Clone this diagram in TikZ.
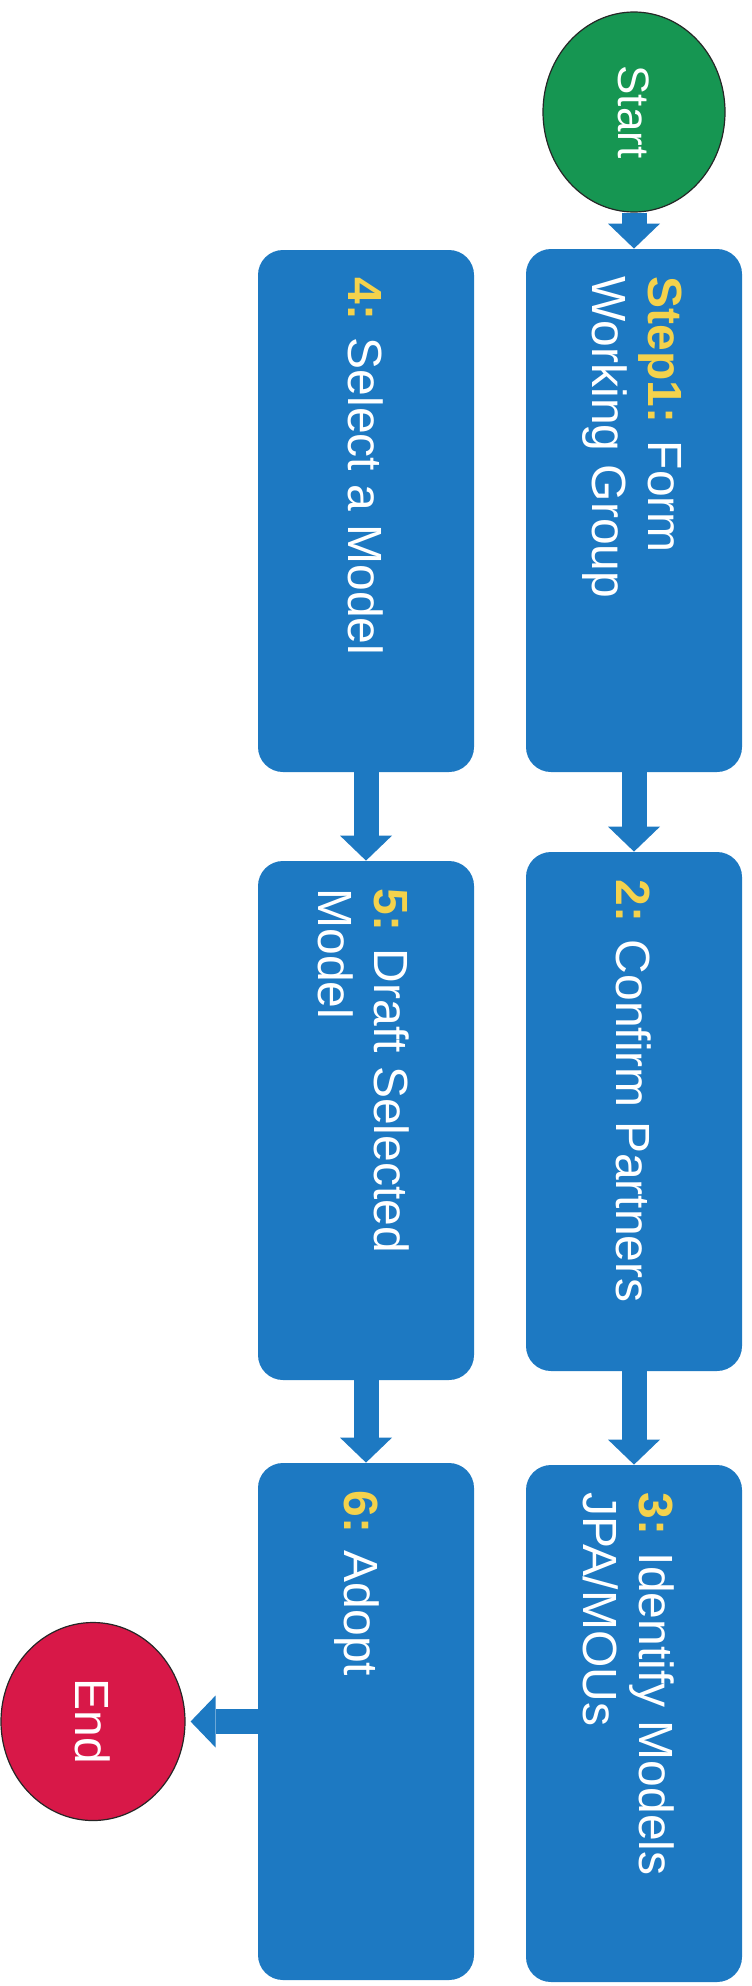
\documentclass[tikz,border=0pt]{standalone}
\usepackage{fontspec}
\usepackage{graphicx}
\setmainfont{Liberation Sans}
\usetikzlibrary{shapes.geometric,arrows.meta}
\definecolor{boxblue}{RGB}{29,121,194}
\definecolor{startgreen}{RGB}{22,150,82}
\definecolor{endred}{RGB}{216,24,72}
\definecolor{numyellow}{RGB}{244,210,76}
\newcommand\stepnum[1]{{\bfseries\color{numyellow}#1}}
\begin{document}
\begin{tikzpicture}[x=0.5pt,y=-0.5pt,
  stepbox/.style={rectangle, rounded corners=12.5pt, fill=boxblue, minimum width=108pt, inner sep=0pt},
  steptext/.style={rotate=-90, anchor=north west, inner sep=0pt, align=left, text=white, font=\fontsize{24}{28}\selectfont},
  flow/.style={line width=12.5pt, draw=boxblue, -{Triangle[width=26pt,length=12.5pt,line width=0pt]}},
  terminal/.style={ellipse, draw=black!85, line width=0.6pt, text=white, inner sep=0pt}]
\fill[white] (0,0) rectangle (751,1986);
\useasboundingbox (0,0) rectangle (751,1986);
% boxes
\node[stepbox, minimum height=261.5pt] (s1) at (634,510.5) {};
\node[stepbox, minimum height=259.5pt] (s2) at (634,1111.5) {};
\node[stepbox, minimum height=258.5pt] (s3) at (634,1723.5) {};
\node[stepbox, minimum height=261pt] (s4) at (366,511) {};
\node[stepbox, minimum height=259.5pt] (s5) at (366,1120.5) {};
\node[stepbox, minimum height=258.5pt] (s6) at (366,1721.5) {};
% texts
\node[steptext] (t1) at (682,276) {\stepnum{Step1:} Form\\Working Group};
\node[steptext] (t2) at (652,879) {\stepnum{2:} Confirm Partners};
\node[steptext] (t3) at (675,1492) {\stepnum{3:} Identify Models\\JPA/MOUs};
\node[steptext] (t4) at (384,277) {\stepnum{4:} Select a Model};
\node[steptext] (t5) at (410,888) {\stepnum{5:} Draft Selected\\Model};
\node[steptext] (t6) at (380,1490) {\stepnum{6:} Adopt};
% terminals
\node[terminal, fill=startgreen, minimum width=91pt, minimum height=100pt, font=\fontsize{22}{26}\selectfont] (start) at (634,112) {\rotatebox{-90}{Start}};
\node[terminal, fill=endred, minimum width=92pt, minimum height=99pt, font=\fontsize{24}{28}\selectfont] (end) at (93,1721.5) {\rotatebox{-90}{End}};
% connectors
\draw[flow] (start.south) -- (s1.north);
\draw[flow] (s1.south) -- (s2.north);
\draw[flow] (s2.south) -- (s3.north);
\draw[flow] (s4.south) -- (s5.north);
\draw[flow] (s5.south) -- (s6.north);
\draw[flow, shorten >=2.5pt] (s6.west) -- (end.east);
\end{tikzpicture}
\end{document}
